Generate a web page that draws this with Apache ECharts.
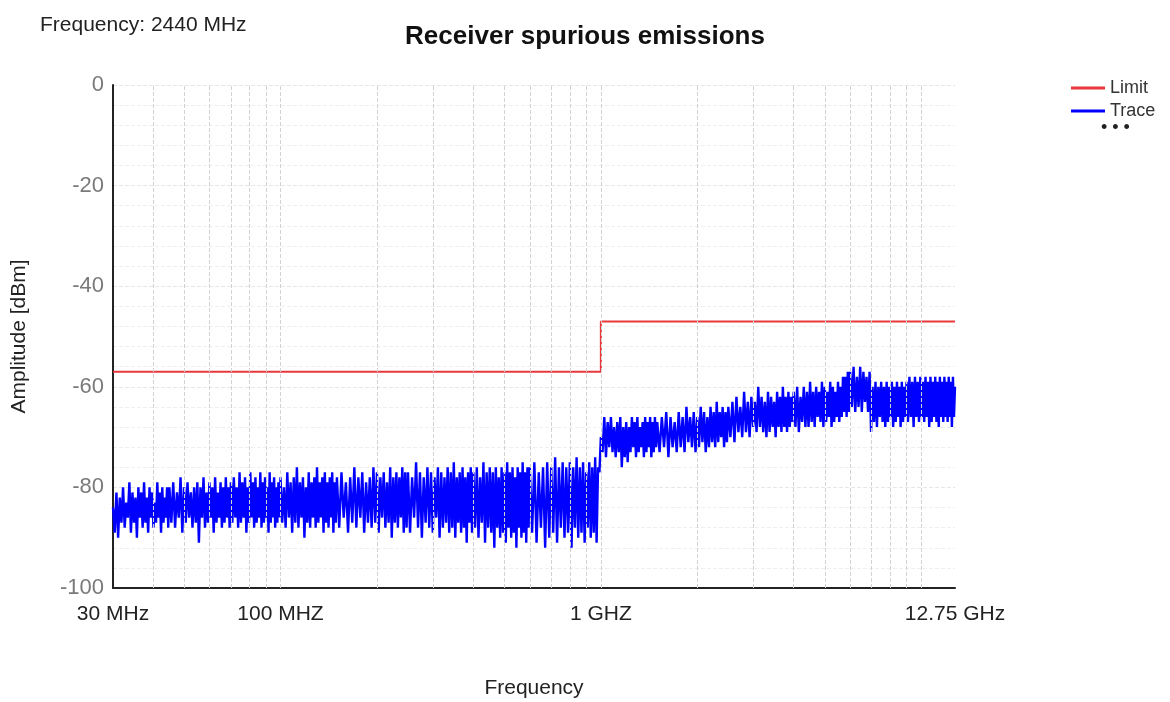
<!DOCTYPE html>
<html>
<head>
<meta charset="utf-8">
<script src="https://cdn.jsdelivr.net/npm/echarts@6/dist/echarts.min.js"></script>
<style>
html,body{margin:0;padding:0;background:#fff;}
#chart{width:1170px;height:702px;}
</style>
</head>
<body>
<div id="chart"></div>
<script>
// ---- data ----
const chartTitle = 'Receiver spurious emissions';
const subTitle = 'Frequency: 2440 MHz';
const legendNames = ['Limit', 'Trace'];

// x tick labels (MHz)
const xTickValues = [30, 100, 1000, 12750];
const xTickLabels = ['30 MHz', '100 MHZ', '1 GHZ', '12.75 GHz'];
// vertical grid lines (MHz)
const gridFreqs = [40, 50, 60, 70, 80, 90, 100, 200, 300, 400, 500, 600, 700, 800, 900, 1000,
  2000, 3000, 4000, 5000, 6000, 7000, 8000, 9000, 10000];

// limit line (MHz, dBm)
const limitFreqMHz = [30, 1000, 1000, 12750];
const limitDbm = [-57, -57, -47, -47];

// analyser sweep segments: start frequency (MHz), step (MHz), number of points
const sweepStartMHz = [30, 45, 70, 100, 150, 250, 400, 600, 1000, 1500, 2500, 4000, 6000, 9000];
const sweepStepMHz  = [0.375, 0.625, 0.75, 1.25, 2.5, 3.75, 5, 10, 12.5, 25, 37.5, 50, 75, 93.75];
const sweepPoints   = [40, 40, 40, 40, 40, 40, 40, 40, 40, 40, 40, 40, 40, 41];

// trace level (dBm) per sweep point
const traceDbm = [
  // 30 - 45 MHz
  -84,-89,-81,-90,-82,-87,-80,-88,-83,-86,-79,-89,-81,-87,-82,-90,-80,-86,-81,-88,
  -79,-87,-82,-89,-80,-86,-81,-88,-83,-87,-79,-86,-81,-89,-80,-87,-82,-86,-80,-88,
  // 45 - 70 MHz
  -80,-87,-79,-88,-81,-86,-78,-89,-80,-87,-79,-86,-81,-88,-80,-87,-79,-91,-80,-86,
  -78,-88,-81,-87,-79,-86,-80,-89,-78,-87,-81,-86,-79,-88,-80,-87,-78,-86,-80,-88,
  // 70 - 100 MHz
  -79,-87,-78,-86,-80,-88,-77,-87,-79,-86,-78,-89,-80,-87,-77,-86,-79,-88,-78,-87,
  -80,-86,-77,-88,-79,-87,-78,-86,-80,-89,-77,-87,-79,-86,-78,-88,-80,-87,-79,-86,
  // 100 - 150 MHz
  -78,-87,-80,-88,-77,-86,-79,-89,-78,-87,-76,-88,-79,-86,-78,-90,-80,-87,-77,-88,
  -79,-86,-78,-88,-76,-87,-79,-86,-78,-89,-77,-87,-79,-88,-78,-86,-77,-89,-79,-87,
  // 150 - 250 MHz
  -78,-88,-77,-86,-79,-89,-78,-87,-76,-88,-78,-86,-77,-89,-79,-87,-78,-88,-76,-87,
  -77,-89,-78,-86,-77,-88,-79,-87,-76,-90,-78,-87,-77,-88,-78,-86,-76,-89,-77,-88,
  // 250 - 400 MHz
  -77,-89,-78,-86,-75,-88,-77,-90,-78,-87,-76,-88,-77,-89,-78,-86,-76,-90,-77,-88,
  -78,-87,-76,-89,-77,-88,-75,-90,-78,-87,-77,-89,-76,-88,-78,-91,-77,-87,-76,-89,
  // 400 - 600 MHz
  -77,-88,-76,-90,-78,-87,-75,-91,-77,-88,-76,-89,-77,-92,-76,-88,-78,-90,-76,-89,
  -77,-91,-75,-88,-77,-90,-76,-89,-78,-92,-76,-88,-77,-90,-75,-89,-77,-91,-76,-88,
  // 600 - 1000 MHz
  -76,-89,-75,-91,-77,-88,-76,-92,-75,-90,-76,-89,-74,-91,-76,-88,-75,-90,-76,-89,
  -75,-92,-76,-88,-74,-90,-76,-89,-75,-91,-77,-88,-75,-90,-76,-89,-74,-91,-76,-77,
  // 1 - 1.5 GHz
  -70,-73,-66,-74,-67,-72,-66,-73,-68,-74,-67,-73,-66,-76,-68,-74,-67,-75,-68,-73,
  -66,-72,-67,-74,-66,-73,-68,-72,-67,-74,-66,-73,-67,-72,-66,-74,-67,-73,-66,-72,
  // 1.5 - 2.5 GHz
  -67,-73,-66,-72,-65,-74,-66,-72,-67,-73,-65,-72,-66,-73,-64,-71,-66,-72,-65,-73,
  -66,-72,-64,-71,-65,-73,-66,-72,-64,-71,-65,-72,-63,-71,-65,-70,-64,-72,-65,-71,
  // 2.5 - 4 GHz
  -64,-70,-63,-71,-62,-69,-64,-70,-61,-69,-63,-70,-62,-68,-63,-69,-60,-68,-62,-69,
  -63,-70,-61,-69,-62,-68,-63,-70,-61,-68,-62,-69,-60,-68,-62,-69,-61,-68,-62,-67,
  // 4 - 6 GHz
  -61,-68,-60,-69,-62,-67,-60,-68,-61,-68,-59,-67,-61,-68,-60,-66,-61,-67,-59,-68,
  -60,-67,-61,-66,-59,-68,-60,-67,-61,-66,-59,-67,-60,-66,-58,-65,-58,-66,-57,-65,
  // 6 - 9 GHz
  -57,-64,-56,-65,-58,-64,-56,-65,-57,-63,-58,-65,-57,-69,-60,-67,-59,-68,-60,-66,
  -59,-67,-60,-68,-59,-67,-60,-66,-59,-68,-60,-67,-59,-66,-60,-68,-59,-67,-60,-66,
  // 9 - 12.75 GHz
  -59,-67,-58,-66,-59,-68,-58,-66,-59,-67,-58,-66,-59,-67,-58,-66,-59,-68,-58,-67,
  -59,-66,-58,-67,-59,-68,-58,-66,-59,-67,-58,-66,-59,-67,-58,-66,-59,-68,-58,-66,-60
];

// ---- chart ----
const FONT = 'Arial, "Liberation Sans", sans-serif';
const chart = echarts.init(document.getElementById('chart'), null, {renderer: 'canvas'});

const traceFreqMHz = [];
sweepStartMHz.forEach((s, k) => {
  for (let i = 0; i < sweepPoints[k]; i++) traceFreqMHz.push(s + i * sweepStepMHz[k]);
});
const limitData = limitFreqMHz.map((f, i) => [f, limitDbm[i]]);
const traceData = traceDbm.map((v, i) => [traceFreqMHz[i], v]);

function xLabel(v) {
  for (let i = 0; i < xTickValues.length; i++) {
    if (Math.abs(v - xTickValues[i]) / xTickValues[i] < 0.01) return xTickLabels[i];
  }
  return '';
}

chart.setOption({
  animation: false,
  backgroundColor: '#ffffff',
  title: [
    {text: chartTitle, left: 'center', top: 19,
     textStyle: {fontFamily: FONT, fontSize: 26, fontWeight: 'bold', color: '#111'}},
    {text: subTitle, left: 35, top: 10,
     textStyle: {fontFamily: FONT, fontSize: 21, fontWeight: 'normal', color: '#222'}}
  ],
  legend: {
    data: legendNames,
    orient: 'vertical',
    left: 1066, top: 74,
    icon: 'rect', itemWidth: 34, itemHeight: 3, itemGap: 5, itemStyle: {borderWidth: 0},
    textStyle: {fontFamily: FONT, fontSize: 18, color: '#333'}
  },
  graphic: [
    {type: 'text', left: 1101, top: 119,
     style: {text: '\u2022 \u2022 \u2022', fontSize: 18, fill: '#222', fontFamily: FONT}}
  ],
  grid: {left: 113, right: 215, top: 85, bottom: 114, containLabel: false, outerBoundsMode: 'none'},
  xAxis: {
    type: 'log', logBase: 10, min: 30, max: 12750,
    name: 'Frequency', nameLocation: 'middle', nameGap: 90,
    nameTextStyle: {fontFamily: FONT, fontSize: 21, color: '#222'},
    axisLine: {show: true, onZero: false, lineStyle: {color: '#222', width: 2}},
    axisTick: {show: false},
    axisLabel: {show: true, showMinLabel: true, showMaxLabel: true, margin: 16,
      fontFamily: FONT, fontSize: 21, color: '#222', formatter: xLabel},
    splitLine: {show: false}
  },
  yAxis: {
    type: 'value', min: -100, max: 0, interval: 20,
    name: 'Amplitude [dBm]', nameLocation: 'middle', nameGap: 83,
    nameTextStyle: {fontFamily: FONT, fontSize: 21, color: '#222'},
    axisLine: {show: true, onZero: false, lineStyle: {color: '#222', width: 2}},
    axisTick: {show: false},
    axisLabel: {margin: 9, fontFamily: FONT, fontSize: 22, color: '#7a7a7a'},
    splitLine: {show: true, lineStyle: {color: '#e6e6e6', type: 'dashed', width: 1}},
    minorTick: {show: false, splitNumber: 5},
    minorSplitLine: {show: true, lineStyle: {color: '#efefef', type: 'dashed', width: 1}}
  },
  series: [
    {
      name: 'Limit', type: 'line', data: limitData,
      showSymbol: false, symbol: 'none',
      lineStyle: {color: '#e8383d', width: 2},
      itemStyle: {color: '#e8383d'},
      z: 3
    },
    {
      name: 'Trace', type: 'line', data: traceData,
      showSymbol: false, symbol: 'none', sampling: null,
      lineStyle: {color: '#0000ff', width: 2.4},
      itemStyle: {color: '#0000ff'},
      z: 2,
      markLine: {
        silent: true, symbol: ['none', 'none'], z: 5,
        label: {show: false},
        lineStyle: {color: '#d2d2d2', type: 'dashed', width: 1},
        emphasis: {disabled: true},
        data: gridFreqs.map(f => ({xAxis: f}))
      }
    }
  ]
});
</script>
</body>
</html>
